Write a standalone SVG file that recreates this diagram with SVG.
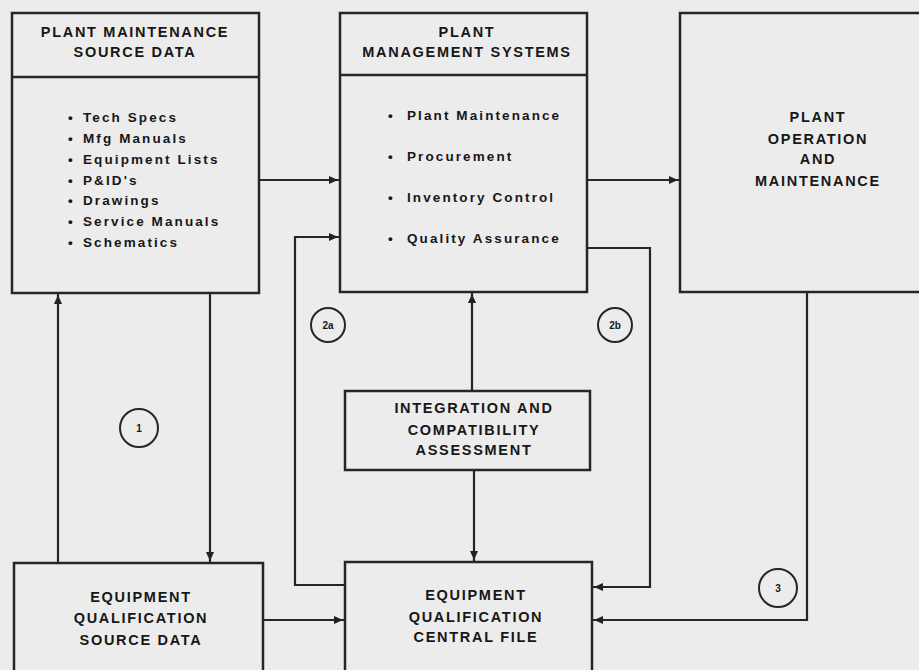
<svg xmlns="http://www.w3.org/2000/svg" width="919" height="670" viewBox="0 0 919 670">
<defs>
<style>
.box{fill:none;stroke:#262626;stroke-width:2.5}
.ln{fill:none;stroke:#262626;stroke-width:2.2}
.h{font-family:"Liberation Sans",Arial,sans-serif;font-weight:bold;font-size:14.5px;letter-spacing:1.7px;fill:#171717;text-anchor:middle}
.b{font-family:"Liberation Sans",Arial,sans-serif;font-weight:bold;font-size:13.5px;letter-spacing:2.1px;fill:#171717}
.c{fill:none;stroke:#262626;stroke-width:2}
.cl{font-family:"Liberation Sans",Arial,sans-serif;font-weight:bold;font-size:10px;fill:#171717;text-anchor:middle}
</style>
<marker id="ah" markerUnits="userSpaceOnUse" markerWidth="12" markerHeight="10" refX="11" refY="4" orient="auto">
<path d="M0,0 L9,4 L0,8 z" fill="#222"/>
</marker>
</defs>
<rect width="919" height="670" fill="#ececec"/>

<g id="plant-maintenance-source-data">
<rect class="box" x="12" y="13" width="247" height="280"/>
<line class="box" x1="12" y1="77" x2="259" y2="77"/>
<text class="h" x="135" y="37">PLANT MAINTENANCE</text>
<text class="h" x="135" y="57">SOURCE DATA</text>
<g class="b">
<text x="68" y="122">•</text><text x="83" y="122">Tech Specs</text>
<text x="68" y="143">•</text><text x="83" y="143">Mfg Manuals</text>
<text x="68" y="164">•</text><text x="83" y="164">Equipment Lists</text>
<text x="68" y="185">•</text><text x="83" y="185">P&amp;ID's</text>
<text x="68" y="205">•</text><text x="83" y="205">Drawings</text>
<text x="68" y="226">•</text><text x="83" y="226">Service Manuals</text>
<text x="68" y="247">•</text><text x="83" y="247">Schematics</text>
</g>
</g>

<g id="plant-management-systems">
<rect class="box" x="340" y="13" width="247" height="279"/>
<line class="box" x1="340" y1="75" x2="587" y2="75"/>
<text class="h" x="467" y="37">PLANT</text>
<text class="h" x="467" y="57">MANAGEMENT SYSTEMS</text>
<g class="b">
<text x="388" y="120">•</text><text x="407" y="120">Plant Maintenance</text>
<text x="388" y="161">•</text><text x="407" y="161">Procurement</text>
<text x="388" y="202">•</text><text x="407" y="202">Inventory Control</text>
<text x="388" y="243">•</text><text x="407" y="243">Quality Assurance</text>
</g>
</g>

<g id="plant-operation-and-maintenance">
<rect class="box" x="680" y="13" width="245" height="279"/>
<text class="h" x="818" y="122">PLANT</text>
<text class="h" x="818" y="144">OPERATION</text>
<text class="h" x="818" y="164">AND</text>
<text class="h" x="818" y="186">MAINTENANCE</text>
</g>

<g id="integration-and-compatibility-assessment">
<rect class="box" x="345" y="391" width="245" height="79"/>
<text class="h" x="474" y="413">INTEGRATION AND</text>
<text class="h" x="474" y="435">COMPATIBILITY</text>
<text class="h" x="474" y="455">ASSESSMENT</text>
</g>

<g id="equipment-qualification-source-data">
<rect class="box" x="14" y="563" width="249" height="120"/>
<text class="h" x="141" y="602">EQUIPMENT</text>
<text class="h" x="141" y="623">QUALIFICATION</text>
<text class="h" x="141" y="645">SOURCE DATA</text>
</g>

<g id="equipment-qualification-central-file">
<rect class="box" x="345" y="562" width="247" height="120"/>
<text class="h" x="476" y="600">EQUIPMENT</text>
<text class="h" x="476" y="622">QUALIFICATION</text>
<text class="h" x="476" y="642">CENTRAL FILE</text>
</g>

<g id="connectors">
<line class="ln" x1="259" y1="180" x2="340" y2="180" marker-end="url(#ah)"/>
<line class="ln" x1="587" y1="180" x2="680" y2="180" marker-end="url(#ah)"/>
<line class="ln" x1="58" y1="563" x2="58" y2="293" marker-end="url(#ah)"/>
<line class="ln" x1="210" y1="293" x2="210" y2="563" marker-end="url(#ah)"/>
<polyline class="ln" points="345,585 295,585 295,237 340,237" marker-end="url(#ah)"/>
<polyline class="ln" points="587,248 650,248 650,587 592,587" marker-end="url(#ah)"/>
<polyline class="ln" points="807,292 807,620 592,620" marker-end="url(#ah)"/>
<line class="ln" x1="472" y1="391" x2="472" y2="292" marker-end="url(#ah)"/>
<line class="ln" x1="474" y1="470" x2="474" y2="562" marker-end="url(#ah)"/>
<line class="ln" x1="263" y1="620" x2="345" y2="620" marker-end="url(#ah)"/>
</g>

<g id="label-1"><circle class="c" cx="139" cy="428" r="19"/><text class="cl" x="139" y="432">1</text></g>
<g id="label-2a"><circle class="c" cx="328" cy="325" r="17"/><text class="cl" x="328" y="329">2a</text></g>
<g id="label-2b"><circle class="c" cx="615" cy="325" r="17"/><text class="cl" x="615" y="329">2b</text></g>
<g id="label-3"><circle class="c" cx="778" cy="588" r="19"/><text class="cl" x="778" y="592">3</text></g>
</svg>
